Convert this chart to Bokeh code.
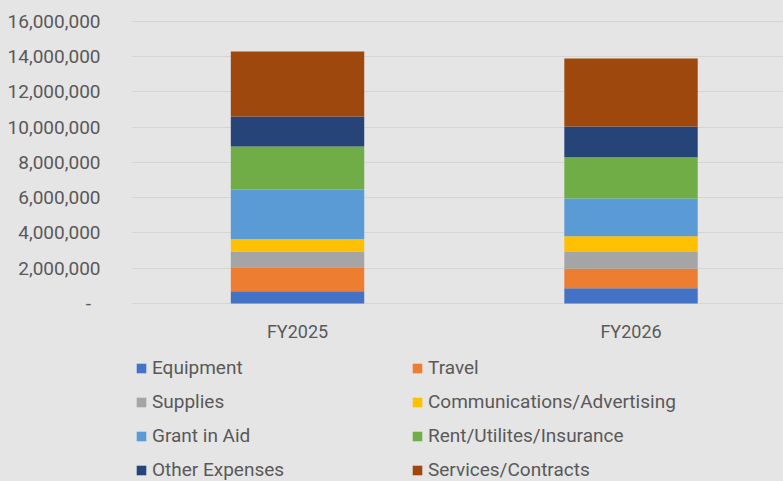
from bokeh.plotting import figure
from bokeh.models import ColumnDataSource, Legend, LegendItem, FixedTicker, Range1d
from bokeh.core.properties import value
from bokeh.embed import file_html
from bokeh.resources import INLINE

# ---- data ----
years = ["FY2025", "FY2026"]
categories = ["Equipment", "Travel", "Supplies", "Communications/Advertising",
              "Grant in Aid", "Rent/Utilites/Insurance", "Other Expenses", "Services/Contracts"]
equipment = [690000, 860000]
travel = [1360000, 1110000]
supplies = [890000, 950000]
communications = [720000, 890000]
grant_in_aid = [2810000, 2150000]
rent = [2440000, 2340000]
other_expenses = [1700000, 1740000]
services = [3690000, 3860000]
colors = ["#4472C4", "#ED7D31", "#A5A5A5", "#FFC000", "#5B9BD5", "#70AD47", "#264478", "#9E480E"]
y_ticks = [0, 2000000, 4000000, 6000000, 8000000, 10000000, 12000000, 14000000, 16000000]
y_tick_labels = ["-\u00a0\u00a0", "2,000,000", "4,000,000", "6,000,000", "8,000,000",
                 "10,000,000", "12,000,000", "14,000,000", "16,000,000"]

BG = "#E5E5E5"
TXT = "#595959"
FONT = "Roboto"

series = [equipment, travel, supplies, communications, grant_in_aid, rent, other_expenses, services]
data = {"x": list(range(len(years)))}
for c, s in zip(categories, series):
    data[c] = s
source = ColumnDataSource(data)
label_source = ColumnDataSource(dict(x=list(range(len(years))), y=[0] * len(years), text=years))

p = figure(width=783, height=481, output_backend="svg", toolbar_location=None,
           x_axis_location=None,
           x_range=Range1d(-0.4978, 1.4572), y_range=Range1d(-10099000, 16510000),
           min_border_left=131, min_border_right=0, min_border_top=12, min_border_bottom=0)
p.background_fill_color = BG
p.border_fill_color = BG
p.outline_line_color = None

renderers = p.vbar_stack(categories, x="x", width=0.4, color=colors, source=source, line_color=None)

# category labels under the bars
p.text(x="x", y="y", text="text", source=label_source, y_offset=28,
       text_align="center", text_baseline="middle", text_color=TXT,
       text_font=value(FONT), text_font_size="18px")

# y axis
p.yaxis.ticker = FixedTicker(ticks=y_ticks)
p.yaxis.major_label_overrides = {t: l for t, l in zip(y_ticks, y_tick_labels)}
p.yaxis.axis_line_color = None
p.yaxis.major_tick_line_color = None
p.yaxis.minor_tick_line_color = None
p.yaxis.major_label_text_color = TXT
p.yaxis.major_label_text_font = FONT
p.yaxis.major_label_text_font_size = "19px"
p.yaxis.major_label_standoff = 25

p.xgrid.grid_line_color = None
p.ygrid.ticker = FixedTicker(ticks=y_ticks)
p.ygrid.grid_line_color = "#D5D5D5"
p.ygrid.grid_line_width = 1

# legends: two columns, row-wise order
col1 = [0, 2, 4, 6]
col2 = [1, 3, 5, 7]
for idxs, vx in ((col1, 4), (col2, 280)):
    items = [LegendItem(label=categories[i], renderers=[renderers[i]]) for i in idxs]
    lg = Legend(items=items, location=(vx, 0), orientation="vertical",
                background_fill_alpha=0, border_line_color=None,
                label_text_font=FONT, label_text_font_size="19px", label_text_color=TXT,
                glyph_width=12, glyph_height=12, label_standoff=5, label_height=22,
                spacing=11, padding=0, margin=0)
    p.add_layout(lg, "center")

html = file_html(p, INLINE)
html = html.replace("<head>", "<head><style>html,body{background:#E5E5E5;}</style>", 1)
open("out.html", "w").write(html)
